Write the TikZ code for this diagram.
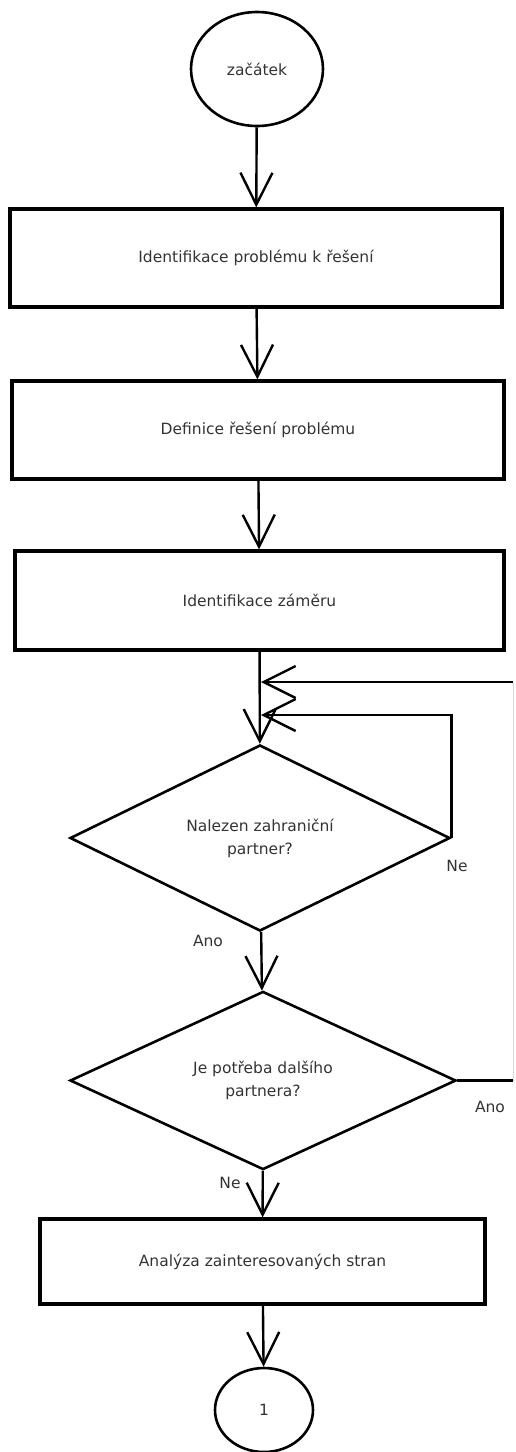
\documentclass[tikz,border=0pt]{standalone}
\usepackage{fontspec}
\setmainfont{DejaVu Sans}
\usetikzlibrary{shapes.geometric,arrows.meta}
\begin{document}
\begin{tikzpicture}[x=1pt,y=-1pt,
  every node/.style={font=\fontsize{15.5}{23}\selectfont, text=black!80},
  term/.style={ellipse, draw=black, line width=2.6pt, inner sep=0pt},
  procbox/.style={rectangle, draw=black, line width=3.2pt, inner sep=0pt},
  decision/.style={diamond, draw=black, line width=2.6pt, inner sep=0pt, align=center},
  flow/.style={line width=2.4pt, -{Straight Barb[length=32pt,width=32pt,line width=2.4pt]}},
  plainline/.style={line width=2.4pt},
  faintline/.style={line width=1pt, draw=black!15},
  lbl/.style={inner sep=0pt}]
\useasboundingbox (0,0) rectangle (515,1452);

\node[term, minimum width=132pt, minimum height=114pt] (start) at (257,69) {začátek};
\node[procbox, minimum width=492pt, minimum height=98pt] (b1) at (256,258) {Identifikace problému k řešení};
\node[procbox, minimum width=492pt, minimum height=98pt] (b2) at (258,430) {Definice řešení problému};
\node[procbox, minimum width=489pt, minimum height=99pt] (b3) at (259.5,600.5) {Identifikace záměru};
\node[decision, minimum width=380pt, minimum height=180pt] (d1) at (260,838) {Nalezen zahraniční\\partner?};
\node[decision, minimum width=386pt, minimum height=175pt] (d2) at (263,1080.5) {Je potřeba dalšího\\partnera?};
\node[procbox, minimum width=445pt, minimum height=85pt] (b4) at (262.5,1261.5) {Analýza zainteresovaných stran};
\node[term, minimum width=98pt, minimum height=84pt] (end) at (264,1410) {1};

\node[lbl] (ne1) at (457,866) {Ne};
\node[lbl] (ano1) at (208,941) {Ano};
\node[lbl] (ano2) at (490,1107) {Ano};
\node[lbl] (ne2) at (230,1183) {Ne};

\coordinate (j1) at (261,682);
\coordinate (j2) at (261,715);
\coordinate (r1) at (513,1080.5);
\coordinate (r2) at (513,682);

\draw[flow] (start) -- (b1);
\draw[flow] (b1) -- (b2);
\draw[flow] (b2) -- (b3);
\draw[flow] (b3) -- (d1);
\draw[flow] (d1) -- (d2);
\draw[flow] (d2) -- (b4);
\draw[flow] (b4) -- (end);

\draw[flow] (d1.east) |- (j2);
\draw[plainline] (d2.east) -- (r1);
\draw[faintline] (r1) -- (r2);
\draw[flow] (r2) -- (j1);
\end{tikzpicture}
\end{document}
